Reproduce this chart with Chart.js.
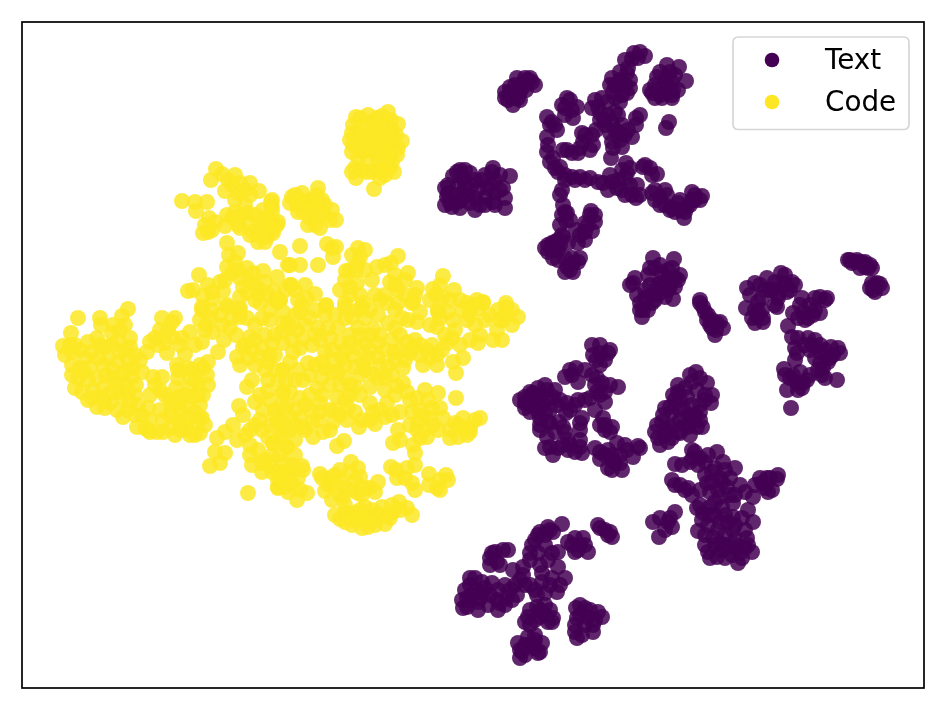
<!DOCTYPE html>
<html>
<head>
<meta charset="utf-8">
<script src="https://cdn.jsdelivr.net/npm/chart.js@4"></script>
<style>
  html, body { margin: 0; background: #fff; }
  canvas { display: block; }
</style>
</head>
<body>
<canvas id="chart" width="946" height="710"></canvas>
<script>
// embedding values, one list per visible cluster
var codeTopIsland = [[356,117],[368,115],[377,118],[388,112],[398,124],[353,125],[363,125],[385,123],[352,133],[370,133],[380,132],[392,130],[402,141],[393,140],[353,145],[352,152],[365,145],[373,143],[382,147],[388,145],[363,152],[375,153],[397,155],[390,155],[355,168],[362,170],[356,178],[377,170],[385,175],[390,168],[383,170],[374,189],
  [360,118],[372,122],[382,116],[391,120],[358,132],[366,135],[376,125],[386,136],[396,135],[360,140],[369,150],[379,138],[387,152],[398,148],[358,158],[368,160],[378,160],[385,162],[392,162],[350,140],[366,172],[372,172],[380,178],[394,172],[352,172]];
var codeUpperLeft = [[216,169],[222,174],[211,180],[225,191],[240,183],[250,183],[238,193],[259,191],[182,201],[195,202],[196,211],[207,202],[209,218],[205,225],[203,233],[212,230],[225,226],[227,215],[235,212],[238,225],[248,213],[247,222],[253,232],[258,242],[267,237],[271,202],[267,218],[277,225],[273,233],[263,210],[272,200],[272,207],[278,222],[272,230],[272,222],
  [232,185],[245,190],[235,200],[232,218],[240,215],[245,205],[255,215],[260,222],[250,235],[262,228],[268,225],[272,212],[265,242],[258,235],[240,228],[215,222],[208,232],[235,175],[228,180],[250,195]];
var codeUpperMid = [[292,197],[302,193],[297,205],[298,212],[317,195],[313,205],[320,207],[332,210],[336,220],[308,225],[320,228],[317,215],[325,205],[310,200],
  [295,195],[305,202],[303,212],[312,210],[322,200],[310,218],[325,215],[330,220],[315,225],[300,200],[318,188],[290,203]];
var codeBand = [[227,243],[229,255],[238,253],[280,252],[288,265],[227,267],[232,273],[247,268],[253,273],[263,271],[277,277],[199,275],[220,282],[223,291],[188,291],[193,290],[208,285],[203,296],[243,287],[240,297],[247,293],[258,294],[260,303],[274,291],[280,300],[290,285],[213,299],[202,307],[227,305],[239,310],[300,246],[327,244],[336,247],[333,257],[332,248],[290,265],[300,265],[318,265],[291,285],[358,248],[360,257],[358,263],[346,271],[377,267],[398,256],[391,263],[408,273],[395,275],[372,280],[357,283],[350,287],[340,290],[390,282],[398,290],[417,288],[443,276],[433,289],[454,290],[443,297],[477,300],[483,302],[467,303],[506,303],[315,294],[298,300],[307,298],[280,300],[326,305],[380,300],[363,303],[345,303],[413,302],[398,303],[438,310],
  [255,285],[240,278],[250,280],[265,282],[235,262],[238,270],[225,280],[212,292],[260,290],[285,290],[295,290],[305,285],[350,270],[356,270],[365,270],[352,255],[365,250],[350,295],[345,280],[360,295],[385,265],[395,285],[405,295],[385,295],[405,280],[375,295],[415,295],[440,285],[436,295],[450,300],[268,295],[275,300],[255,300]];
var codeFarLeft = [[78,318],[100,318],[101,325],[128,309],[122,316],[71,333],[63,346],[65,355],[72,365],[78,378],[82,392],[88,400],[97,407],[105,408],[117,410],[123,417],[80,350],[85,358],[90,367],[97,378],[93,390],[100,397],[110,393],[97,338],[112,333],[105,347],[108,358],[113,370],[117,382],[122,397],[130,338],[130,347],[147,352],[140,360],[127,370],[132,378],[128,392],[130,402],[135,415],[145,428],[137,427],
  [75,345],[72,352],[88,342],[92,352],[100,345],[98,358],[80,368],[88,380],[84,372],[103,365],[106,375],[103,388],[112,378],[112,345],[118,340],[120,352],[118,362],[125,350],[122,375],[118,392],[110,403],[92,398],[104,400],[126,385],[128,360],[135,355],[133,368],[142,372],[136,385],[135,395],[138,405],[142,415],[128,410],[150,420],[148,408],[150,432],[72,375],[75,388],[70,345],[113,325],[120,330],[125,325]];
var codeLowerLeft = [[150,395],[153,377],[162,377],[160,410],[157,432],[163,432],[175,435],[187,430],[200,433],[202,418],[193,425],[182,422],[170,415],[170,400],[178,397],[187,407],[193,397],[178,378],[190,388],[192,370],[208,362],[207,375],[203,395],[198,383],[177,365],[185,354],[162,318],[175,318],[168,330],[155,338],[165,343],[167,353],[182,338],[190,332],[202,342],[213,332],[224,340],[218,352],[202,310],[200,320],[212,310],[227,307],[230,328],[240,317],[247,318],
  [155,385],[160,390],[165,395],[176,388],[172,407],[180,410],[163,420],[170,428],[180,430],[195,412],[200,405],[205,425],[190,418],[178,420],[195,435],[208,385],[200,365],[195,380],[185,395],[198,395],[203,368],[190,378],[178,370],[172,337],[180,345],[160,330],[172,322],[158,345],[150,342],[195,345],[205,330],[210,318],[220,315],[232,318],[222,325],[240,308],[206,325],[236,335],[148,430],[190,435],[180,402],[200,418],[188,368]];
var codeCentreLeft = [[250,337],[237,357],[243,347],[260,357],[272,343],[270,320],[288,323],[247,387],[252,380],[268,391],[265,370],[283,370],[283,392],[239,406],[243,415],[233,425],[225,432],[217,438],[245,435],[237,440],[215,452],[225,453],[210,466],[220,463],[250,455],[252,465],[262,463],[263,410],[260,420],[268,437],[273,443],[282,420],[283,432],[287,447],[278,473],[285,487],[278,487],[248,493],[290,470],
  [245,345],[252,350],[240,365],[248,358],[255,340],[265,335],[262,348],[270,355],[268,362],[255,365],[282,405],[275,410],[270,400],[278,380],[268,380],[260,395],[255,402],[250,430],[255,425],[275,415],[270,425],[290,430],[295,440],[262,430],[250,445],[258,450],[272,455],[265,460],[295,455],[282,462],[270,465],[285,472],[278,480],[290,475],[298,478],[288,492],[262,472]];
var codeCentreTop = [[278,302],[302,305],[326,306],[345,307],[362,307],[387,303],[412,303],[438,312],[473,305],[483,303],[506,307],[518,317],[503,320],[497,330],[502,340],[480,335],[478,343],[467,320],[453,320],[437,327],[452,338],[283,323],[290,328],[310,318],[318,328],[328,328],[338,328],[352,317],[365,318],[358,328],[373,329],[388,323],[395,328],[417,322],[408,320],
  [295,315],[300,312],[315,310],[325,315],[335,315],[345,318],[358,310],[370,310],[378,315],[395,310],[402,318],[420,312],[430,300],[255,325],[262,318],[270,310],[283,312],[478,308],[505,315],[512,325],[460,300],[470,310],[500,320],[470,315],[462,310],[448,312],[440,318],[430,325],[485,320],[490,315],[498,310],[512,310]];
var codeCentre = [[303,339],[312,345],[325,352],[340,343],[350,343],[365,343],[378,343],[394,352],[407,342],[415,340],[410,353],[427,350],[437,355],[447,343],[423,365],[437,365],[463,358],[456,373],[453,362],[283,343],[275,355],[293,352],[283,370],[275,370],[295,380],[308,363],[303,380],[325,368],[342,358],[353,355],[363,363],[338,372],[355,367],[373,374],[378,357],[388,366],[403,368],
  [275,335],[282,332],[292,340],[297,330],[305,325],[300,348],[315,335],[320,340],[330,338],[332,350],[322,362],[335,360],[345,350],[345,365],[350,335],[360,335],[357,348],[370,335],[380,335],[370,350],[368,358],[385,350],[392,340],[400,335],[400,350],[380,365],[395,360],[405,360],[412,348],[420,345],[432,345],[420,355],[430,358],[442,350],[445,335],[455,330],[460,345],[470,340],[475,325],[493,340],[290,362],[298,370],[286,380],[290,392],[310,375],[315,365],[322,378],[332,372],[345,378],[350,385],[360,375],[365,370],[378,378],[385,378],[392,375]];
var codeCentreLow = [[330,385],[317,388],[355,387],[370,387],[385,390],[397,386],[403,383],[407,392],[425,390],[438,393],[456,398],[417,398],[283,392],[300,398],[287,405],[320,403],[337,397],[330,410],[348,408],[370,403],[373,412],[387,403],[392,415],[400,412],[385,417],[375,424],[432,408],[423,415],[418,422],[417,430],[427,437],[433,425],[443,418],[480,418],[463,418],[455,423],[470,427],[467,435],[450,438],[458,437],[398,430],[393,443],[400,440],[420,438],[277,423],[290,417],[303,427],[313,437],[323,432],[333,422],[347,420],[359,427],[312,422],[280,437],[344,441],[337,446],[287,447],[273,443],[280,455],
  [360,395],[350,395],[340,385],[345,400],[335,410],[322,395],[310,395],[305,405],[295,410],[300,418],[310,410],[318,420],[330,430],[340,415],[355,412],[362,420],[370,420],[380,410],[395,395],[410,400],[420,410],[428,400],[440,408],[430,418],[425,430],[438,430],[410,425],[412,412],[305,430],[295,425],[320,412],[470,432],[475,420],[462,428],[450,430],[458,425]];
var codeBottom = [[415,453],[391,467],[407,468],[397,478],[412,483],[415,490],[429,474],[446,475],[448,480],[429,485],[437,488],[302,466],[292,465],[280,472],[272,472],[283,480],[293,485],[278,488],[307,493],[297,500],[303,470],[320,474],[335,475],[351,462],[350,472],[360,477],[325,491],[332,500],[343,497],[332,485],[378,482],[358,493],[370,488],[365,488],[340,519],[345,512],[352,525],[355,513],[365,507],[368,527],[370,517],[382,507],[385,524],[387,515],[399,502],[407,508],[412,515],[360,520],[377,520],[393,512],
  [350,515],[360,510],[372,510],[375,525],[345,522],[362,528],[378,514],[390,518],[355,520],[365,520],[335,515],[345,505],[392,505],[400,510],[322,478],[328,485],[340,480],[345,487],[340,470],[355,480],[352,490],[330,478],[358,468],[285,480],[300,490],[340,495],[375,492],[362,495],[415,465],[413,445],[405,478],[396,470],[440,480],[440,490]];

var textTopLeft = [[517,78],[530,78],[535,85],[523,83],[510,92],[520,92],[505,98],[513,98],[513,105],[523,87],[528,80],
  [515,85],[525,78],[508,100],[518,98],[505,92],[520,100],[526,90],[515,92],[510,87],[532,82]];
var textFan = [[567,98],[565,108],[577,107],[573,118],[547,117],[552,122],[557,130],[547,137],[547,152],[550,162],[560,167],[558,172],[567,150],[578,153],[572,153],[582,133],[583,142],[593,145],[596,130],[595,100],[602,98],[600,113],[608,115],[615,112],[612,123],[622,125],[636,118],[610,133],[620,140],[632,137],[612,142],[634,53],[645,56],[632,59],[638,58],[627,73],[612,78],[620,80],[630,80],[613,92],[627,93],[620,102],[618,85],
  [625,60],[640,52],[628,68],[620,72],[615,85],[622,95],[630,88],[610,85],[625,85],[615,98],[607,102],[598,107],[592,108],[604,120],[618,115],[600,120],[615,130],[625,135],[618,132],[628,130],[605,125],[613,148],[622,147],[592,135],[585,135],[580,148],[590,150],[562,105],[570,100],[565,115],[572,110],[550,125],[555,125],[548,145],[553,158],[555,168],[565,175],[563,150],[640,115],[636,125]];
var textTopRight = [[667,65],[679,67],[657,77],[667,77],[686,81],[652,93],[663,87],[673,90],[662,98],[672,98],[669,122],[666,128],
  [660,72],[670,72],[665,82],[655,85],[672,82],[660,95],[668,92],[655,98],[672,95],[678,90],[675,75],[650,90]];
var textArm = [[611,158],[626,163],[627,173],[643,167],[650,168],[657,174],[572,177],[580,177],[590,178],[603,183],[617,188],[618,180],[630,185],[637,185],[636,198],[652,193],[660,197],[667,195],[660,205],[670,210],[678,203],[684,218],[687,207],[692,192],[702,196],[695,200],
  [622,170],[630,168],[625,178],[612,182],[610,175],[622,190],[625,195],[632,195],[640,195],[645,165],[652,175],[598,182],[585,180],[565,180],[575,180],[608,190],[655,200],[665,205],[672,208],[675,212],[680,210],[690,205],[680,200],[695,195],[700,200],[665,190],[655,190],[685,212],[692,200]];
var textStem = [[562,190],[563,205],[567,213],[566,221],[576,230],[591,211],[595,222],[585,223],[592,231],[578,243],[585,240],[563,237],[552,243],[548,252],[558,250],[558,260],[567,267],[573,272],[580,258],[573,263],[555,242],
  [560,195],[565,212],[562,215],[570,220],[560,225],[590,215],[588,225],[580,235],[585,232],[595,215],[555,250],[548,245],[560,245],[553,258],[565,258],[552,250],[545,248],[570,270],[578,262],[572,258],[565,272],[562,235],[558,240],[568,243]];
var textLeftBlock = [[460,170],[453,176],[470,173],[463,178],[482,180],[493,168],[510,176],[495,180],[448,193],[452,207],[463,193],[470,203],[458,202],[485,205],[485,197],[495,193],[505,198],[505,208],[493,202],[447,197],
  [457,172],[465,170],[475,180],[458,185],[448,185],[455,195],[450,203],[460,208],[468,195],[475,198],[478,190],[488,188],[472,185],[485,175],[490,185],[500,175],[495,205],[480,205],[500,190],[465,185],[492,172],[445,205],[445,188],[503,188],[475,210],[462,200]];
var textMidBlob = [[653,258],[674,259],[633,283],[635,278],[648,275],[662,273],[675,278],[675,287],[663,287],[673,299],[665,297],[652,295],[652,303],[640,303],[643,310],[642,317],[668,270],[660,283],[670,287],
  [655,268],[660,265],[668,278],[658,285],[668,282],[680,275],[672,268],[650,285],[645,290],[660,293],[655,300],[645,298],[640,310],[648,310],[637,295],[630,285],[668,290],[678,280],[650,268]];
var textDiagonal = [[700,303],[705,312],[707,320],[717,323],[723,328],[715,335],
  [703,307],[708,315],[712,320],[712,328],[720,322],[716,330],[700,300],[710,325]];
var textRight = [[755,283],[747,288],[767,278],[781,273],[792,282],[782,283],[772,290],[787,292],[758,302],[746,308],[777,307],[757,317],[763,318],[755,323],[802,298],[820,297],[827,298],[793,313],[803,312],[808,318],[820,313],[813,315],[788,326],[792,337],[808,338],[812,345],[820,352],[831,347],[840,353],[833,355],[820,363],[828,362],[822,375],[837,380],[797,353],[795,360],[784,369],[793,375],[797,383],[807,380],[803,383],[787,390],[791,408],
  [760,285],[775,282],[765,290],[778,295],[785,275],[790,290],[795,285],[750,295],[762,298],[755,310],[762,310],[752,318],[763,322],[758,312],[770,290],[785,285],[775,305],[778,298],[800,305],[805,320],[798,318],[815,310],[810,305],[825,300],[815,298],[810,350],[815,340],[798,338],[825,350],[830,358],[823,368],[815,358],[818,370],[825,378],[838,348],[795,348],[800,372],[790,378],[798,390],[810,375],[802,388],[785,375],[805,345],[820,345]];
var textCorner = [[850,260],[857,260],[863,263],[870,265],[872,283],[877,283],[882,288],[873,290],[852,263],[865,267],
  [848,260],[855,262],[860,262],[865,262],[868,268],[872,268],[875,285],[870,288],[880,284],[875,292],[860,268]];
var textCentreLeft = [[600,353],[608,353],[593,355],[600,365],[576,368],[565,377],[572,375],[578,382],[592,375],[602,383],[618,387],[605,392],[605,402],[533,393],[547,390],[525,403],[538,402],[553,397],[545,413],[525,408],[543,405],[567,403],[578,400],[590,398],[566,413],[540,425],[550,423],[559,422],[563,427],[547,437],[580,423],[580,430],[603,418],[612,427],[605,430],[550,447],[558,448],[568,440],[568,450],[580,447],[582,453],[600,452],[600,459],[608,450],[617,443],[615,463],[608,468],[620,463],[627,450],[633,457],[638,446],
  [530,392],[538,388],[525,397],[535,398],[520,400],[540,395],[548,398],[555,390],[545,385],[530,412],[538,412],[540,418],[532,405],[550,410],[557,405],[560,400],[575,405],[585,400],[570,410],[597,392],[600,395],[595,385],[610,385],[597,378],[585,370],[570,370],[605,360],[592,345],[600,345],[610,350],[596,360],[548,422],[540,430],[555,432],[565,432],[582,418],[595,410],[605,425],[600,425],[610,432],[545,448],[553,455],[570,445],[575,452],[563,445],[580,440],[605,455],[612,455],[620,455],[612,460],[622,470],[625,445],[640,448],[612,470],[595,448]];
var textCentreWedge = [[696,372],[707,383],[678,385],[697,390],[711,403],[673,395],[687,397],[700,412],[670,407],[683,408],[663,415],[680,420],[657,425],[670,427],[697,427],[702,427],[658,438],[672,438],[680,433],[688,427],
  [690,375],[700,378],[685,388],[692,382],[705,395],[675,400],[680,400],[692,405],[695,415],[705,400],[665,408],[672,412],[680,410],[690,415],[662,422],[665,430],[675,425],[685,425],[692,420],[655,432],[665,435],[678,432],[690,435],[660,445],[668,442],[700,420],[712,395],[678,392],[700,405]];
var textLowerRight = [[692,450],[717,452],[723,462],[693,458],[682,465],[675,464],[700,458],[735,468],[720,478],[707,483],[680,485],[675,485],[685,490],[710,492],[727,487],[745,492],[753,497],[767,478],[777,479],[772,490],[762,483],[697,508],[703,513],[722,507],[733,503],[748,510],[753,522],[720,522],[733,517],[698,531],[713,537],[733,530],[747,538],[708,552],[717,557],[732,555],[738,563],[752,552],[740,553],[720,543],[710,507],[653,522],[659,537],[675,512],[668,522],
  [695,452],[690,462],[698,465],[705,462],[708,455],[715,468],[705,475],[712,472],[725,470],[722,482],[712,482],[730,478],[718,490],[740,485],[765,488],[770,478],[778,475],[760,478],[768,492],[755,485],[702,520],[708,525],[715,515],[725,515],[735,525],[728,522],[742,518],[745,530],[735,540],[725,535],[718,530],[705,535],[710,515],[720,497],[730,495],[715,502],[735,495],[700,505],[705,545],[715,545],[725,545],[735,548],[745,548],[710,558],[725,558],[735,545],[742,558],[748,545],[722,550],[700,490],[688,488],[672,480],[692,495],[660,518],[670,518],[672,527],[665,530]];
var textBottom = [[562,524],[548,527],[540,532],[538,535],[553,532],[598,525],[610,532],[605,530],[612,537],[575,538],[568,542],[580,545],[588,552],[583,538],[492,553],[508,550],[497,562],[490,565],[532,545],[538,553],[530,553],[552,553],[558,552],[558,567],[523,567],[513,570],[542,573],[565,578],[530,585],[542,582],[557,592],[545,593],[470,578],[482,582],[492,583],[505,585],[517,595],[507,597],[467,598],[467,607],[483,593],[488,605],[498,610],[478,602],[497,600],[537,607],[528,617],[550,610],[553,618],[540,617],[535,620],[548,622],[576,608],[585,608],[577,618],[602,617],[587,617],[593,625],[577,638],[575,632],[593,632],[528,637],[518,643],[528,645],[542,643],[522,652],[538,653],[520,658],
  [490,558],[495,552],[500,565],[503,550],[470,585],[476,590],[485,588],[462,600],[472,595],[478,610],[475,578],[463,608],[490,595],[498,590],[505,605],[512,600],[515,585],[523,575],[525,585],[520,580],[535,590],[537,595],[550,585],[552,578],[560,585],[540,565],[548,560],[530,560],[545,545],[535,540],[550,530],[545,535],[572,545],[578,550],[585,545],[575,552],[600,528],[608,535],[530,610],[545,605],[540,610],[525,622],[545,615],[552,622],[530,625],[580,615],[585,625],[598,612],[590,610],[575,625],[582,635],[595,620],[580,605],[525,645],[535,640],[525,655],[535,648],[520,650],[540,652],[535,635],[500,603],[510,590],[480,598],[470,600],[465,590]];

var seriesNames = ['Text', 'Code'];
var textPoints = [].concat(textTopLeft, textFan, textTopRight, textArm, textStem, textLeftBlock, textMidBlob, textDiagonal, textRight, textCorner, textCentreLeft, textCentreWedge, textLowerRight, textBottom);
var codePoints = [].concat(codeTopIsland, codeUpperLeft, codeUpperMid, codeBand, codeFarLeft, codeLowerLeft, codeCentreLeft, codeCentreTop, codeCentre, codeCentreLow, codeBottom);

function toXY(list) {
  return list.map(function (p) { return { x: p[0], y: p[1] }; });
}

// matplotlib style frame and inset legend
var frameAndLegend = {
  id: 'frameAndLegend',
  afterDraw: function (chart) {
    var ctx = chart.ctx;
    var a = chart.chartArea;
    ctx.save();
    ctx.strokeStyle = '#000';
    ctx.lineWidth = 1.7;
    ctx.strokeRect(a.left, a.top, a.right - a.left, a.bottom - a.top);

    ctx.beginPath();
    ctx.roundRect(733, 37, 176, 92.5, 5);
    ctx.fillStyle = 'rgba(255,255,255,0.8)';
    ctx.fill();
    ctx.strokeStyle = '#d6d6d6';
    ctx.lineWidth = 1.7;
    ctx.stroke();

    ctx.font = '27.8px "DejaVu Sans"';
    ctx.textBaseline = 'middle';
    chart.data.datasets.forEach(function (ds, i) {
      var y = 60 + i * 42;
      ctx.beginPath();
      ctx.arc(772, y, 7.3, 0, Math.PI * 2);
      ctx.fillStyle = ds.legendColor;
      ctx.fill();
      ctx.fillStyle = '#000';
      ctx.fillText(ds.label, 825, y + 2);
    });
    ctx.restore();
  }
};

new Chart(document.getElementById('chart'), {
  type: 'scatter',
  data: {
    datasets: [{
      label: seriesNames[0],
      data: toXY(textPoints),
      backgroundColor: 'rgba(68,1,84,0.85)',
      legendColor: '#440154',
      pointRadius: 8,
      pointBorderWidth: 0
    }, {
      label: seriesNames[1],
      data: toXY(codePoints),
      backgroundColor: 'rgba(253,231,37,0.85)',
      legendColor: '#fde725',
      pointRadius: 8,
      pointBorderWidth: 0
    }]
  },
  options: {
    responsive: false,
    animation: false,
    layout: { padding: { left: 22, right: 22, top: 22, bottom: 22 } },
    scales: {
      x: { display: false, min: 22, max: 924 },
      y: { display: false, min: 22, max: 688, reverse: true }
    },
    plugins: {
      legend: { display: false },
      tooltip: { enabled: false }
    }
  },
  plugins: [frameAndLegend]
});
</script>
</body>
</html>
